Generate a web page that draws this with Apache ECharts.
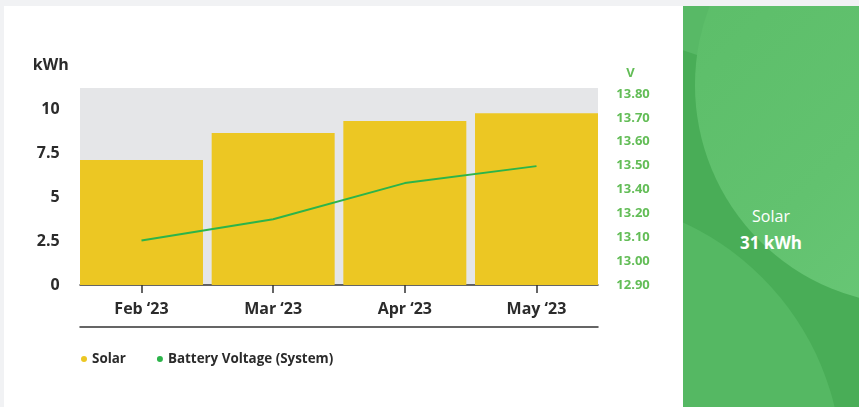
<!DOCTYPE html>
<html>
<head>
<meta charset="utf-8">
<script src="https://cdn.jsdelivr.net/npm/echarts@6/dist/echarts.min.js"></script>
<style>
  html, body { margin:0; padding:0; width:859px; height:407px; overflow:hidden; background:#f1f2f4; font-family:"Open Sans", sans-serif; }
  #card { position:absolute; left:4px; top:6px; width:679px; height:401px; background:#ffffff; }
  #chart { position:absolute; left:0; top:0; width:859px; height:407px; }
  #panel { position:absolute; left:683px; top:6px; width:176px; height:401px; overflow:hidden; background:#58b966; }
  #panel .c { position:absolute; border-radius:50%; }
  #cA { left:-599px; top:23px; width:922px; height:922px; background:#49ad57; }
  #cB { left:-385px; top:192px; width:544px; height:544px; background:#55b863; }
  #cC { left:12px; top:-141px; width:440px; height:440px; background:linear-gradient(135deg, #5abc67 0%, #62c26f 50%, #70cc7e 100%); }
  #pname { position:absolute; left:0; top:199px; width:176px; text-align:center; color:#fff; font-size:16px; font-weight:400; line-height:22px; }
  #pval { position:absolute; left:0; top:226px; width:176px; text-align:center; color:#fff; font-size:17px; font-weight:700; line-height:22px; }
</style>
</head>
<body>
<div id="card"></div>
<div id="panel">
  <div class="c" id="cA"></div>
  <div class="c" id="cB"></div>
  <div class="c" id="cC"></div>
  <div id="pname"></div>
  <div id="pval"></div>
</div>
<div id="chart"></div>
<script>
// ---- data ----
const months = ['Feb \u201823', 'Mar \u201823', 'Apr \u201823', 'May \u201823'];
const solarKWh = [7.10, 8.64, 9.32, 9.77];
const batteryVoltage = [13.11, 13.21, 13.38, 13.46];
const voltageTickLabels = ['12.90', '13.00', '13.10', '13.20', '13.40', '13.50', '13.60', '13.70', '13.80'];
const panelName = 'Solar';
const panelTotal = '31 kWh';

document.getElementById('pname').textContent = panelName;
document.getElementById('pval').textContent = panelTotal;

const FONT = '"Open Sans", sans-serif';
const DARK = '#2b2b2b';
const GREEN_LABEL = '#63bd57';
const LINE_GREEN = '#2cb44a';
const BAR_YELLOW = '#ecc723';

// grid 0 holds the data; its category bands are widened so the bars reach the plot edges
const bandW = 131.67;
const plotL = 80, plotR = 598, plotT = 88, plotB = 285;
const g0L = plotL - (bandW - 123) / 2, g0R = plotR + (bandW - 123) / 2;

const chart = echarts.init(document.getElementById('chart'), null, { renderer: 'canvas' });
chart.setOption({
  animation: false,
  textStyle: { fontFamily: FONT },
  grid: [
    { left: g0L, right: 859 - g0R, top: plotT, bottom: 407 - plotB, containLabel: false },
    { left: plotL, right: 859 - plotR, top: plotT, bottom: 407 - plotB, show: true, backgroundColor: '#e5e6e8', borderWidth: 0, z: -1 }
  ],
  legend: {
    left: 81, top: 352, padding: 0, itemGap: 31, itemWidth: 6, itemHeight: 6,
    icon: 'circle',
    textStyle: { fontFamily: FONT, fontSize: 13.4, fontWeight: 'bold', color: DARK, lineHeight: 14 },
    data: [
      { name: 'Solar', itemStyle: { color: BAR_YELLOW } },
      { name: 'Battery Voltage (System)', itemStyle: { color: LINE_GREEN } }
    ]
  },
  xAxis: [
    {
      gridIndex: 0, type: 'category', data: months,
      axisLine: { show: false },
      axisTick: { show: true, alignWithLabel: true, length: 8, lineStyle: { color: '#333', width: 1.5 } },
      axisLabel: { margin: 16, fontFamily: FONT, fontSize: 16, fontWeight: 'bold', color: DARK },
      splitLine: { show: false }
    },
    {
      gridIndex: 1, type: 'category', data: months, position: 'bottom',
      axisLine: { show: true, lineStyle: { color: '#333', width: 1.5 } },
      axisTick: { show: false }, axisLabel: { show: false }, splitLine: { show: false }
    },
    {
      gridIndex: 1, type: 'category', data: months, position: 'bottom', offset: 42,
      axisLine: { show: true, lineStyle: { color: '#333', width: 1.5 } },
      axisTick: { show: false }, axisLabel: { show: false }, splitLine: { show: false }
    }
  ],
  yAxis: [
    {
      gridIndex: 0, type: 'value', position: 'left', min: 0, max: 11.2, interval: 2.5,
      name: 'kWh', nameLocation: 'end', nameGap: 23,
      nameTextStyle: { fontFamily: FONT, fontSize: 16, fontWeight: 'bold', color: DARK, align: 'right', verticalAlign: 'middle', padding: [0, 7, 0, 0] },
      axisLine: { show: false }, axisTick: { show: false }, splitLine: { show: false },
      axisLabel: { margin: 16, fontFamily: FONT, fontSize: 16, fontWeight: 'bold', color: DARK, showMaxLabel: false }
    },
    {
      gridIndex: 0, type: 'value', position: 'right', min: 12.9, max: 13.828, show: false,
      splitLine: { show: false }
    },
    {
      gridIndex: 0, type: 'value', position: 'right', min: 0, max: 8.25, interval: 1,
      name: 'V', nameLocation: 'end', nameGap: 15,
      nameTextStyle: { fontFamily: FONT, fontSize: 13, fontWeight: 'bold', color: GREEN_LABEL, align: 'left', verticalAlign: 'middle', padding: [0, 0, 0, 24] },
      axisLine: { show: false }, axisTick: { show: false }, splitLine: { show: false },
      axisLabel: {
        margin: 14, fontFamily: FONT, fontSize: 13, fontWeight: 'bold', color: GREEN_LABEL, showMaxLabel: false,
        formatter: function (v) { const i = Math.round(v); return Math.abs(v - i) < 1e-6 && voltageTickLabels[i] !== undefined ? voltageTickLabels[i] : ''; }
      }
    },
    { gridIndex: 1, type: 'value', show: false, min: 0, max: 1, splitLine: { show: false } }
  ],
  series: [
    {
      name: 'Solar', type: 'bar', xAxisIndex: 0, yAxisIndex: 0,
      data: solarKWh, barCategoryGap: '6.6%',
      itemStyle: { color: BAR_YELLOW }
    },
    {
      name: 'Battery Voltage (System)', type: 'line', xAxisIndex: 0, yAxisIndex: 1,
      data: batteryVoltage, symbol: 'none', smooth: false,
      lineStyle: { color: LINE_GREEN, width: 2 }, itemStyle: { color: LINE_GREEN }, z: 5
    }
  ]
});
</script>
</body>
</html>
